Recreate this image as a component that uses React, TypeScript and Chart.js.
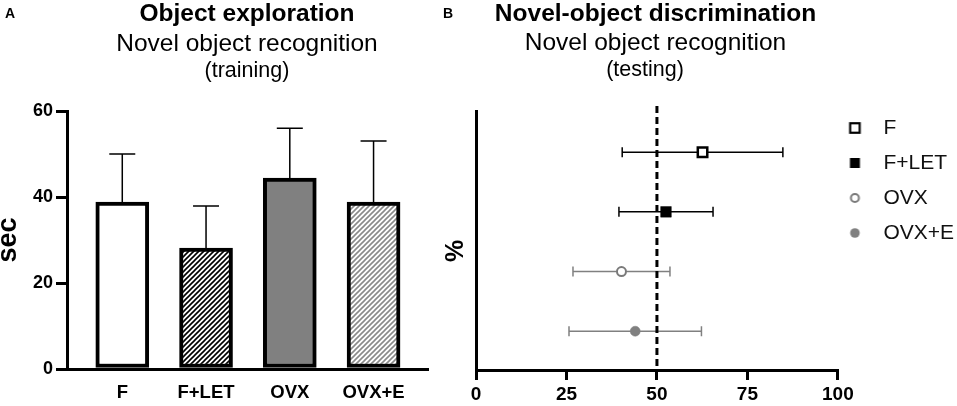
import { useEffect, useRef } from "react"
import { Chart, registerables } from "chart.js"

Chart.register(...registerables)

const FONT = '"Liberation Sans", Arial, Helvetica, sans-serif'
Chart.defaults.font.family = FONT
Chart.defaults.color = "#000"

// Groups (shared by both panels)
const groups = ["F", "F+LET", "OVX", "OVX+E"]

// Panel A: object exploration during training (sec), mean + SEM
const explorationMean = [38.8, 28.1, 44.4, 38.8]
const explorationSem = [11.2, 9.8, 11.6, 14.2]
const secTicks = [0, 20, 40, 60]

// Panel B: novel-object discrimination during testing (%), mean ± SEM
const discriminationMean = [62.6, 52.5, 40.2, 44.0]
const discriminationSem = [22.2, 13.0, 13.4, 18.3]
const percentTicks = [0, 25, 50, 75, 100]
const chanceLevel = 50

const GRAY = "#808080"

// diagonal hatch fill used for the F+LET / OVX+E bars
function hatch(color: string) {
  const c = document.createElement("canvas")
  c.width = 5
  c.height = 5
  const g = c.getContext("2d")!
  g.fillStyle = "#fff"
  g.fillRect(0, 0, 5, 5)
  g.strokeStyle = color
  g.lineWidth = 1.6
  g.beginPath()
  g.moveTo(-1, 6)
  g.lineTo(6, -1)
  g.moveTo(-1, 1)
  g.lineTo(1, -1)
  g.moveTo(4, 6)
  g.lineTo(6, 4)
  g.stroke()
  return g.createPattern(c, "repeat")!
}

// legend icon, drawn left of the image centre so the label text sits further away
function legendIcon(kind: "openSquare" | "square" | "openCircle" | "circle", color: string) {
  const c = document.createElement("canvas")
  c.width = 36
  c.height = 16
  const g = c.getContext("2d")!
  const cx = 10.5
  const cy = 8
  g.fillStyle = color
  g.strokeStyle = color
  if (kind === "openSquare") {
    g.lineWidth = 2.2
    g.strokeRect(cx - 4.75, cy - 4.75, 9.5, 9.5)
  } else if (kind === "square") {
    g.fillRect(cx - 5, cy - 5, 10, 10)
  } else if (kind === "openCircle") {
    g.lineWidth = 2
    g.beginPath()
    g.arc(cx, cy, 4, 0, Math.PI * 2)
    g.stroke()
  } else {
    g.beginPath()
    g.arc(cx, cy, 4.8, 0, Math.PI * 2)
    g.fill()
  }
  return c
}

function ExplorationChart() {
  const chartRef = useRef<HTMLCanvasElement>(null)

  useEffect(() => {
    if (!chartRef.current) return
    const ctx = chartRef.current.getContext("2d")
    if (!ctx) return

    // upper error whiskers on each bar
    const errorBars = {
      id: "errorBarsA",
      afterDatasetsDraw(chart: Chart) {
        const c = chart.ctx
        const y = chart.scales.y
        const meta = chart.getDatasetMeta(0)
        c.save()
        c.strokeStyle = "#000"
        c.lineWidth = 1.5
        meta.data.forEach((bar: any, i: number) => {
          const top = y.getPixelForValue(explorationMean[i] + explorationSem[i])
          c.beginPath()
          c.moveTo(bar.x, bar.y)
          c.lineTo(bar.x, top)
          c.moveTo(bar.x - 13, top)
          c.lineTo(bar.x + 13, top)
          c.stroke()
        })
        c.restore()
      },
    }

    const chart = new Chart(ctx, {
      type: "bar",
      data: {
        datasets: [
          {
            data: explorationMean.map((v, i) => ({ x: i + 1, y: v })),
            backgroundColor: ["#fff", hatch("#000"), GRAY, hatch("#8a8a8a")],
            borderColor: "#000",
            borderWidth: 4,
            borderSkipped: false,
            barThickness: 53,
          },
        ],
      },
      options: {
        animation: false,
        responsive: false,
        events: [],
        layout: { padding: { top: 111, right: 12, bottom: 0, left: 0 } },
        plugins: { legend: { display: false }, tooltip: { enabled: false } },
        scales: {
          x: {
            type: "linear",
            bounds: "data",
            offset: false,
            min: 0.34,
            max: 4.65,
            afterBuildTicks: (axis: any) => {
              axis.ticks = groups.map((_, i) => ({ value: i + 1 }))
            },
            afterFit: (axis: any) => {
              axis.height = 37
            },
            grid: { display: false, drawTicks: false },
            border: { display: true, color: "#000", width: 3 },
            ticks: {
              autoSkip: false,
              maxRotation: 0,
              padding: 13,
              color: "#000",
              font: { family: FONT, size: 18.5, weight: "bold" },
              callback: (v: any) => groups[Math.round(v) - 1],
            },
          },
          y: {
            min: 0,
            max: 60,
            afterBuildTicks: (axis: any) => {
              axis.ticks = secTicks.map((v) => ({ value: v }))
            },
            afterFit: (axis: any) => {
              axis.width = 67
            },
            grid: { drawOnChartArea: false, tickLength: 11, lineWidth: 3, color: "#000" },
            border: { display: true, color: "#000", width: 3 },
            ticks: { padding: 3, color: "#000", font: { family: FONT, size: 18, weight: "bold" } },
            title: {
              display: true,
              text: "sec",
              color: "#000",
              padding: 0,
              font: { family: FONT, size: 27, weight: "bold", lineHeight: 0.64 },
            },
          },
        },
      },
      plugins: [errorBars],
    })

    return () => {
      chart.destroy()
    }
  }, [])

  return <canvas ref={chartRef} width={440} height={406} aria-label="Object exploration chart"></canvas>
}

function DiscriminationChart() {
  const chartRef = useRef<HTMLCanvasElement>(null)

  useEffect(() => {
    if (!chartRef.current) return
    const ctx = chartRef.current.getContext("2d")
    if (!ctx) return

    const markers = [
      { style: "rect", radius: 6.7, fill: "#fff", stroke: "#000", width: 2.5, err: "#000" },
      { style: "rect", radius: 7.5, fill: "#000", stroke: "#000", width: 0.5, err: "#000" },
      { style: "circle", radius: 4.5, fill: "#fff", stroke: "#7a7a7a", width: 2, err: GRAY },
      { style: "circle", radius: 5, fill: GRAY, stroke: GRAY, width: 0.5, err: GRAY },
    ]
    const icons = [
      legendIcon("openSquare", "#000"),
      legendIcon("square", "#000"),
      legendIcon("openCircle", "#7a7a7a"),
      legendIcon("circle", GRAY),
    ]

    // horizontal SEM whiskers + dashed chance line, under the markers
    const errorBars = {
      id: "errorBarsB",
      beforeDatasetsDraw(chart: Chart) {
        const c = chart.ctx
        const { x, y } = chart.scales
        c.save()
        c.lineWidth = 1.5
        groups.forEach((_, i) => {
          const py = y.getPixelForValue(groups.length - i)
          const x1 = x.getPixelForValue(discriminationMean[i] - discriminationSem[i])
          const x2 = x.getPixelForValue(discriminationMean[i] + discriminationSem[i])
          c.strokeStyle = markers[i].err
          c.beginPath()
          c.moveTo(x1, py)
          c.lineTo(x2, py)
          c.moveTo(x1, py - 5)
          c.lineTo(x1, py + 5)
          c.moveTo(x2, py - 5)
          c.lineTo(x2, py + 5)
          c.stroke()
        })
        const cx = x.getPixelForValue(chanceLevel)
        c.strokeStyle = "#000"
        c.lineWidth = 3
        c.setLineDash([7, 4])
        c.beginPath()
        c.moveTo(cx, chart.chartArea.top - 5)
        c.lineTo(cx, chart.chartArea.bottom)
        c.stroke()
        c.restore()
      },
    }

    // the legend box starts at the chart-area top; lift it to the reference position
    const legendNudge = {
      id: "legendNudge",
      afterLayout(chart: any) {
        if (chart.legend) {
          chart.legend.top -= 7.5
          chart.legend.bottom -= 7.5
        }
      },
    }

    const chart = new Chart(ctx, {
      type: "scatter",
      data: {
        datasets: groups.map((g, i) => ({
          label: g,
          data: [{ x: discriminationMean[i], y: groups.length - i }],
          pointStyle: markers[i].style as any,
          pointRadius: markers[i].radius,
          backgroundColor: markers[i].fill,
          borderColor: markers[i].stroke,
          borderWidth: markers[i].width,
        })),
      },
      options: {
        animation: false,
        responsive: false,
        events: [],
        layout: { padding: { top: 111, right: -7, bottom: 0, left: 0 } },
        plugins: {
          tooltip: { enabled: false },
          legend: {
            position: "right",
            align: "start",
            labels: {
              usePointStyle: true,
              boxWidth: 21,
              padding: 14,
              color: "#111",
              font: { family: FONT, size: 21 },
              generateLabels: () =>
                groups.map((g, i) => ({
                  text: g,
                  pointStyle: icons[i] as any,
                  fillStyle: markers[i].fill,
                  strokeStyle: markers[i].stroke,
                  lineWidth: 0,
                  hidden: false,
                  datasetIndex: i,
                  fontColor: "#111",
                })),
            },
          },
        },
        scales: {
          x: {
            type: "linear",
            min: 0,
            max: 100,
            afterBuildTicks: (axis: any) => {
              axis.ticks = percentTicks.map((v) => ({ value: v }))
            },
            afterFit: (axis: any) => {
              axis.height = 36
            },
            grid: { drawOnChartArea: false, tickLength: 10, lineWidth: 3, color: "#000" },
            border: { display: true, color: "#000", width: 3 },
            ticks: { padding: 3, maxRotation: 0, color: "#000", font: { family: FONT, size: 19, weight: "bold" } },
          },
          y: {
            type: "linear",
            min: 0.35,
            max: 4.69,
            afterFit: (axis: any) => {
              axis.width = 36
            },
            grid: { display: false },
            border: { display: true, color: "#000", width: 3 },
            ticks: { display: false },
            title: {
              display: true,
              text: "%   ",
              color: "#000",
              padding: { top: 1, bottom: 0 },
              font: { family: FONT, size: 25, weight: "bold" },
            },
          },
        },
      },
      plugins: [errorBars, legendNudge],
    })

    return () => {
      chart.destroy()
    }
  }, [])

  return <canvas ref={chartRef} width={517} height={406} aria-label="Novel-object discrimination chart"></canvas>
}

function Caption({ x, top, size, bold, children }: { x: number; top: number; size: number; bold?: boolean; children: any }) {
  return (
    <div
      style={{
        position: "absolute",
        left: x,
        top,
        transform: "translateX(-50%)",
        whiteSpace: "nowrap",
        fontSize: size,
        lineHeight: 1,
        fontWeight: bold ? 700 : 400,
      }}
    >
      {children}
    </div>
  )
}

export default function App() {
  return (
    <div
      style={{
        position: "absolute",
        left: 0,
        top: 0,
        width: 957,
        height: 406,
        background: "#fff",
        color: "#000",
        fontFamily: FONT,
        overflow: "hidden",
      }}
    >
      <div style={{ position: "absolute", left: 0, top: 0 }}>
        <ExplorationChart />
      </div>
      <div style={{ position: "absolute", left: 440, top: 0 }}>
        <DiscriminationChart />
      </div>

      <div style={{ position: "absolute", left: 5, top: 5.5, fontSize: 14, lineHeight: 1, fontWeight: 700 }}>A</div>
      <Caption x={247} top={1.3} size={24.5} bold>
        Object exploration
      </Caption>
      <Caption x={247} top={31} size={24.5}>
        Novel object recognition
      </Caption>
      <Caption x={247} top={60} size={21.5}>
        (training)
      </Caption>

      <div style={{ position: "absolute", left: 443, top: 5.5, fontSize: 14, lineHeight: 1, fontWeight: 700 }}>B</div>
      <Caption x={655.5} top={1.3} size={24.5} bold>
        Novel-object discrimination
      </Caption>
      <Caption x={655.5} top={30} size={24.5}>
        Novel object recognition
      </Caption>
      <Caption x={645} top={59} size={21.5}>
        (testing)
      </Caption>
    </div>
  )
}
